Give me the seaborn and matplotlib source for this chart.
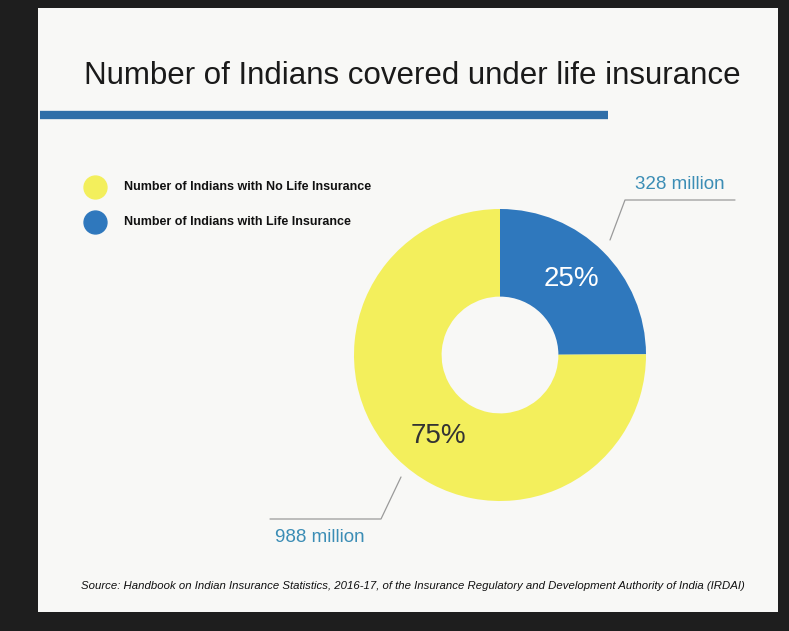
import matplotlib
matplotlib.use("Agg")
import matplotlib.pyplot as plt
import seaborn as sns
from matplotlib.patches import Rectangle
from matplotlib.lines import Line2D

labels = ["Number of Indians with Life Insurance", "Number of Indians with No Life Insurance"]
values = [328, 988]
value_labels = ["328 million", "988 million"]
pct_labels = ["25%", "75%"]
colors = ["#2f78bd", "#f3ef5c"]
title = "Number of Indians covered under life insurance"
source = ("Source: Handbook on Indian Insurance Statistics, 2016-17, of the Insurance "
          "Regulatory and Development Authority of India (IRDAI)")

sns.set_theme(style="white")
plt.rcParams["font.family"] = ["Liberation Sans", "DejaVu Sans"]

W, H = 789, 631
fig = plt.figure(figsize=(W / 100, H / 100), dpi=100)
fig.patch.set_facecolor("#1e1e1e")

def fx(px):
    return px / W

def fy(py):
    return 1 - py / H

# slide background
fig.patches.append(Rectangle((fx(38), fy(612)), fx(778) - fx(38), fy(8) - fy(612),
                             transform=fig.transFigure, facecolor="#f8f8f6", edgecolor="none", zorder=-10))

# title and rule
fig.text(fx(412), fy(76), title, ha="center", va="center", fontsize=22.5, color="#1a1a1a")
fig.add_artist(Line2D([fx(40), fx(608)], [fy(115), fy(115)], transform=fig.transFigure,
                      color="#2f6ea8", linewidth=6, solid_capstyle="butt"))

# legend
for i, (lab, col) in enumerate([(labels[1], colors[1]), (labels[0], colors[0])]):
    y = 187 + i * 35
    fig.add_artist(Line2D([fx(95)], [fy(y)], transform=fig.transFigure, marker="o",
                          markersize=16.5, color=col, linestyle="none"))
    fig.text(fx(124), fy(y), lab, ha="left", va="center", fontsize=9,
             color="#111111", fontweight="bold")

# donut
cx, cy, R = 500, 355, 146
half = 162
ax = fig.add_axes([fx(cx - half), fy(cy + half), (2 * half) / W, (2 * half) / H])
ax.set_zorder(5)
ax.set_facecolor("none")
lim = half / R
wedges, _ = ax.pie(values, colors=colors, startangle=90, counterclock=False,
                   radius=1, wedgeprops=dict(width=0.6, edgecolor="none"))
ax.set_xlim(-lim, lim)
ax.set_ylim(-lim, lim)
ax.set_aspect("equal")
ax.axis("off")

def d(px, py):
    return ((px - cx) / R, (cy - py) / R)

# percentage labels
x, y = d(571, 279)
ax.text(x, y, pct_labels[0], ha="center", va="center", fontsize=20, color="white")
x, y = d(438, 436)
ax.text(x, y, pct_labels[1], ha="center", va="center", fontsize=20, color="#333333")

# leader lines and value labels
pts = [d(610, 240), d(625, 200), d(735, 200)]
ax.add_line(Line2D([p[0] for p in pts], [p[1] for p in pts], color="#9a9a9a",
                   linewidth=0.9, clip_on=False))
x, y = d(680, 184)
ax.text(x, y, value_labels[0], ha="center", va="center", fontsize=13.5, color="#3b8db5", clip_on=False)

pts = [d(401, 477), d(381, 519), d(270, 519)]
ax.add_line(Line2D([p[0] for p in pts], [p[1] for p in pts], color="#9a9a9a",
                   linewidth=0.9, clip_on=False))
x, y = d(320, 537)
ax.text(x, y, value_labels[1], ha="center", va="center", fontsize=13.5, color="#3b8db5", clip_on=False)

# source
fig.text(fx(413), fy(586), source, ha="center", va="center", fontsize=8.2,
         style="italic", color="#111111")

fig.savefig("out.png", dpi=100, facecolor=fig.get_facecolor())
